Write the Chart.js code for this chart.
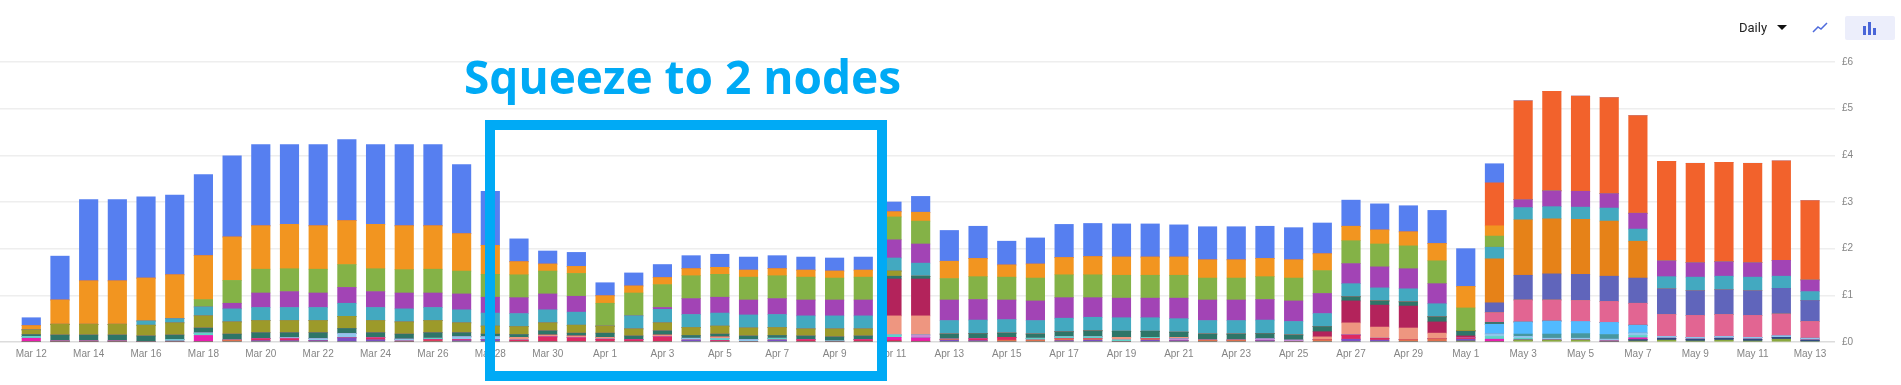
<!DOCTYPE html>
<html>
<head>
<meta charset="utf-8">
<title>Daily cost</title>
<script src="https://cdn.jsdelivr.net/npm/chart.js@4"></script>
<style>
  html, body { margin: 0; padding: 0; background: #fff; overflow: hidden; }
  #wrap { position: relative; width: 1901px; height: 385px; }
  canvas { position: absolute; left: 0; top: 0; }
  #headline { position: absolute; left: 464px; top: 44px; font: 700 46px/64px "Open Sans", sans-serif; color: #00aaf5; white-space: nowrap; }
  #box { position: absolute; left: 485px; top: 120px; width: 382px; height: 241px; border: 10px solid #00aaf5; }
  #daily { position: absolute; left: 1739px; top: 20px; font: 13px/16px Roboto, sans-serif; color: #222; }
  #caret { position: absolute; left: 1777px; top: 25px; width: 0; height: 0; border-left: 5px solid transparent; border-right: 5px solid transparent; border-top: 5px solid #111; }
  #lineIcon { position: absolute; left: 1812px; top: 22px; }
  #barBtn { position: absolute; left: 1845px; top: 16px; width: 50px; height: 24px; background: #eceefb; border-radius: 2px; }
  #barBtn svg { position: absolute; left: 18px; top: 6px; }
</style>
</head>
<body>
<div id="wrap">
  <canvas id="cost-chart" width="1901" height="385"></canvas>
  <div id="headline">Squeeze to 2 nodes</div>
  <div id="box"></div>
  <div id="daily">Daily</div>
  <div id="caret"></div>
  <svg id="lineIcon" width="16" height="12"><polyline points="1,10 6,5 9,7 15,1" fill="none" stroke="#4f6bdc" stroke-width="1.5"/></svg>
  <div id="barBtn"><svg width="14" height="13"><rect x="0" y="4" width="3" height="9" fill="#4a66d8"/><rect x="5" y="0" width="3" height="13" fill="#4a66d8"/><rect x="10" y="6" width="3" height="7" fill="#4a66d8"/></svg></div>
</div>
<script>
// Days along the bottom
const days = [
  'Mar 12','Mar 13','Mar 14','Mar 15','Mar 16','Mar 17','Mar 18','Mar 19','Mar 20','Mar 21',
  'Mar 22','Mar 23','Mar 24','Mar 25','Mar 26','Mar 27','Mar 28','Mar 29','Mar 30','Mar 31',
  'Apr 1','Apr 2','Apr 3','Apr 4','Apr 5','Apr 6','Apr 7','Apr 8','Apr 9','Apr 10',
  'Apr 11','Apr 12','Apr 13','Apr 14','Apr 15','Apr 16','Apr 17','Apr 18','Apr 19','Apr 20',
  'Apr 21','Apr 22','Apr 23','Apr 24','Apr 25','Apr 26','Apr 27','Apr 28','Apr 29','Apr 30',
  'May 1','May 2','May 3','May 4','May 5','May 6','May 7','May 8','May 9','May 10',
  'May 11','May 12','May 13'
];

// Series values in pounds, bottom of the stack first
const lime = [
  0,0,0,0,0,0,0,0,0,0, 0,0,0,0,0,0,0,0,0,0, 0,0,0,0,0,0,0,0,0,0,
  0,0,0,0,0,0,0,0,0,0, 0,0,0,0,0,0,0,0,0,0,
  .02,0,.04,.04,.04,0,.02,.04,.02,.04, .02,.06,0
];
const navy = [
  0,0,0,0,0,0,0,0,0,0, 0,0,0,0,0,0,0,0,0,0, 0,0,0,0,0,0,0,0,0,0,
  0,0,0,0,0,0,0,0,0,0, 0,0,0,0,0,0,0,0,0,0,
  0,0,0,0,0,0,.03,.04,.04,.04, .04,.04,.04
];
const violet = [
  0,0,0,0,0,0,0,0,.03,.03, .03,.09,.05,0,0,.03,.05,0,0,0, 0,0,0,.04,0,0,.04,0,0,0,
  0,0,.04,.03,0,0,.03,.04,0,.04, .03,0,0,.03,0,0,.06,.04,0,0,
  .04,0,0,0,0,.02,0,0,0,0, 0,0,0
];
const redOrange = [
  0,0,0,0,0,0,0,.04,0,0, 0,0,0,0,.02,0,0,0,0,0, 0,0,0,0,0,0,0,0,0,0,
  0,0,.02,0,.04,.04,.04,.03,0,.03, 0,.04,.04,0,0,.05,0,0,.05,.07,
  0,0,0,0,0,0,0,0,0,0, 0,0,0
];
const red = [
  0,.02,.02,.02,0,0,0,0,.04,.04, 0,0,.04,.02,.03,.02,0,.04,.11,.09, .06,.05,.11,0,.03,0,0,.05,0,.05,
  .04,.02,0,.04,.06,0,0,0,0,0, 0,0,0,0,0,0,.09,.04,0,0,
  .03,0,0,0,0,0,0,0,0,0, 0,0,0
];
const magenta = [
  .08,0,0,0,0,.02,.14,0,0,0, 0,0,0,0,0,0,0,0,0,0, 0,0,0,0,0,0,0,0,0,0,
  .06,.07,0,0,0,0,0,0,0,0, 0,0,0,0,0,0,0,0,0,0,
  0,.06,0,0,0,0,.04,0,0,0, 0,0,0
];
const lightTeal = [
  .04,0,0,0,0,.03,.05,0,0,0, 0,0,0,0,.03,0,0,0,0,0, 0,0,0,0,.04,0,.04,0,.02,0,
  .05,0,0,0,0,.04,.04,.04,.04,.03, 0,0,0,0,0,0,0,0,0,0,
  0,.06,.04,0,0,0,.05,0,0,0, 0,0,0
];
const lightBlue = [
  0,0,0,0,0,0,0,0,0,.02, .04,.09,0,.04,0,.06,.06,0,0,0, 0,0,0,.04,0,.05,0,0,0,0,
  0,0,0,0,0,0,0,0,0,0, 0,0,0,0,0,0,0,0,0,0,
  0,.05,.04,.04,.04,.04,.05,.04,.04,.04, .04,.03,.04
];
const lilac = [
  0,0,0,0,0,0,0,0,0,0, 0,0,0,0,0,0,0,0,0,0, 0,0,0,0,0,0,0,0,0,0,
  0,.06,0,0,0,0,0,0,0,0, .04,0,0,.04,.04,0,0,0,0,0,
  0,0,0,0,0,0,0,0,0,0, 0,0,0
];
const dimTeal = [
  0,0,0,0,0,0,0,0,0,0, 0,0,0,0,0,0,0,0,0,0, 0,0,0,0,0,0,0,0,0,0,
  0,0,0,0,0,0,0,0,0,0, 0,0,0,0,0,0,0,0,0,0,
  0,0,.05,.09,.10,.10,0,0,0,0, 0,0,0
];
const sky = [
  0,0,0,0,0,0,0,0,0,0, 0,0,0,0,0,0,0,0,0,0, 0,0,0,0,0,0,0,0,0,0,
  0,0,0,0,0,0,0,0,0,0, 0,0,0,0,0,0,0,0,0,0,
  0,.21,.26,.28,.26,.26,.17,0,0,0, 0,0,0
];
const salmon = [
  0,0,0,0,0,0,0,0,0,0, 0,0,0,0,0,0,0,.06,.04,.04, .04,0,.04,0,.04,0,0,0,0,0,
  .41,.41,0,0,0,0,0,0,.06,0, .03,0,0,0,0,.06,.26,.24,.25,.12,
  0,0,0,0,0,0,0,0,0,0, 0,0,0
];
const crimson = [
  0,0,0,0,0,0,0,0,0,0, 0,0,0,0,0,0,0,0,0,0, 0,0,0,0,0,0,0,0,0,0,
  .79,.79,0,0,0,0,0,0,0,0, 0,0,0,0,0,.11,.47,.47,.47,.24,
  .04,0,0,0,0,0,0,0,0,0, 0,0,0
];
const darkTeal = [
  .04,.13,.13,.13,.13,.10,.11,.13,.13,.11, .13,.11,.11,.11,.12,.09,.06,.06,.09,.06,
  .09,.08,.09,.06,.06,.08,.06,.08,.09,.08, .06,.06,.11,.11,.09,.09,.11,.13,.13,.13,
  .11,.13,.13,.11,.11,.11,.09,.09,.09,.11, .10,.04,0,0,0,0,0,0,0,0, 0,0,0
];
const pink = [
  0,0,0,0,0,0,0,0,0,0, 0,0,0,0,0,0,0,0,0,0, 0,0,0,0,0,0,0,0,0,0,
  0,0,0,0,0,0,0,0,0,0, 0,0,0,0,0,0,0,0,0,0,
  0,.21,.47,.45,.45,.45,.47,.47,.47,.47, .47,.47,.36
];
const olive = [
  .10,.23,.23,.23,.23,.26,.26,.26,.26,.26, .26,.26,.26,.26,.26,.21,.17,.17,.17,.17,
  .15,.15,.17,.17,.17,.17,.17,.15,.17,.15, .11,0,0,0,0,0,0,0,0,0,
  0,0,0,0,0,0,0,0,0,0, .02,0,0,0,0,0,0,0,0,0, 0,0,0
];
const indigo = [
  0,0,0,0,0,0,0,0,0,0, 0,0,0,0,0,0,0,0,0,0, 0,0,0,0,0,0,0,0,0,0,
  0,0,0,0,0,0,0,0,0,0, 0,0,0,0,0,0,0,0,0,0,
  0,.21,.53,.56,.56,.54,.54,.55,.53,.53, .53,.55,.45
];
const darkOrange = [
  0,0,0,0,0,0,0,0,0,0, 0,0,0,0,0,0,0,0,0,0, 0,0,0,0,0,0,0,0,0,0,
  0,0,0,0,0,0,0,0,0,0, 0,0,0,0,0,0,0,0,0,0,
  0,.94,1.19,1.18,1.18,1.18,.79,0,0,0, 0,0,0
];
const cyan = [
  0,0,0,0,.09,.09,.19,.28,.28,.28, .28,.28,.28,.28,.28,.28,.28,.28,.28,.28,
  0,.28,.29,.28,.28,.28,.28,.28,.28,.28, .28,.28,.29,.29,.29,.29,.29,.29,.29,.29,
  .29,.29,.29,.29,.29,.28,.28,.28,.28,.28, 0,.25,.26,.26,.26,.28,.26,.26,.29,.29, .29,.26,.19
];
const purple = [
  0,0,0,0,0,0,0,.12,.31,.34, .31,.34,.34,.34,.31,.34,.34,.34,.34,.34,
  0,0,.04,.34,.34,.32,.34,.34,.34,.34, .39,.41,.44,.44,.42,.42,.44,.42,.42,.42,
  .44,.44,.44,.44,.44,.43,.43,.45,.43,.43, 0,0,.17,.34,.34,.31,.34,.34,.31,.31, .31,.34,.25
];
const green = [
  0,0,0,0,0,0,.16,.49,.51,.49, .51,.49,.49,.50,.51,.49,.49,.49,.49,.49,
  .49,.49,.49,.49,.49,.49,.49,.49,.47,.49, .49,.49,.46,.49,.49,.49,.49,.49,.49,.49,
  .49,.47,.47,.49,.49,.49,.49,.49,.49,.49, .48,.24,0,0,0,0,0,0,0,0, 0,0,0
];
const orange = [
  .09,.52,.93,.93,.92,.94,.94,.93,.93,.95, .93,.94,.95,.94,.93,.80,.62,.28,.15,.15,
  .16,.15,.15,.15,.15,.15,.15,.15,.15,.15, .11,.19,.37,.39,.26,.30,.37,.39,.39,.39,
  .39,.39,.39,.39,.39,.36,.31,.30,.30,.37, .46,.22,0,0,0,0,0,0,0,0, 0,0,0
];
const orangeRed = [
  0,0,0,0,0,0,0,0,0,0, 0,0,0,0,0,0,0,0,0,0, 0,0,0,0,0,0,0,0,0,0,
  0,0,0,0,0,0,0,0,0,0, 0,0,0,0,0,0,0,0,0,0,
  0,.92,2.12,2.13,2.04,2.06,2.09,2.13,2.13,2.13, 2.13,2.13,1.70
];
const blue = [
  .17,.94,1.74,1.74,1.74,1.71,1.74,1.74,1.74,1.71, 1.74,1.74,1.71,1.74,1.74,1.48,1.16,.49,.28,.30,
  .28,.28,.28,.28,.28,.28,.28,.28,.28,.28, .21,.34,.66,.69,.51,.56,.71,.71,.71,.71,
  .69,.71,.71,.69,.69,.66,.56,.56,.56,.71, .81,.41,0,0,0,0,0,0,0,0, 0,0,0
];

const yTicks = [0, 1, 2, 3, 4, 5, 6];

const stackOrder = [
  [lime, '#8aa83f'], [navy, '#2f4a80'], [violet, '#7a4fc4'], [redOrange, '#e0704f'],
  [red, '#dd2a62'], [magenta, '#e91eb0'], [lightTeal, '#5fd3c8'], [lightBlue, '#8fc7ec'],
  [lilac, '#c78ad6'], [dimTeal, '#46979f'], [sky, '#52baff'], [salmon, '#ee9680'],
  [crimson, '#b3235b'], [darkTeal, '#2e7568'], [pink, '#e26592'], [olive, '#9c9a2a'],
  [indigo, '#6065bb'], [darkOrange, '#e68218'], [cyan, '#43a9c0'], [purple, '#a244b5'],
  [green, '#84b247'], [orange, '#f29520'], [orangeRed, '#f2622c'], [blue, '#567ff0']
];

const datasets = stackOrder.map(([values, colour]) => ({
  data: values.map((v, i) => ({ x: i, y: v })),
  backgroundColor: colour,
  barThickness: 18.5,
  borderWidth: 0
}));

new Chart(document.getElementById('cost-chart'), {
  type: 'bar',
  data: { datasets },
  options: {
    responsive: false,
    animation: false,
    layout: { padding: { top: 62 } },
    plugins: { legend: { display: false }, tooltip: { enabled: false } },
    scales: {
      x: {
        type: 'linear',
        stacked: true,
        offset: false,
        min: -1.09,
        max: 62.87,
        grid: { display: false, offset: false, drawTicks: false },
        border: { display: false },
        afterBuildTicks: axis => {
          axis.ticks = days.map((d, i) => ({ value: i })).filter(t => t.value % 2 === 0);
        },
        // the first and last labels must not push the plot area in
        afterFit: axis => {
          axis.height = 43;
          axis.paddingLeft = 0;
          axis.paddingRight = 0;
        },
        ticks: {
          autoSkip: false,
          maxRotation: 0,
          padding: 6,
          color: '#858585',
          font: { family: 'Liberation Sans', size: 10 },
          callback: value => days[value]
        }
      },
      y: {
        position: 'right',
        stacked: true,
        min: 0,
        max: yTicks[yTicks.length - 1],
        grid: {
          drawTicks: false,
          lineWidth: 1.5,
          color: ctx => ctx.tick.value === 0 ? '#dcdcdc' : '#eeeeee'
        },
        border: { display: false },
        afterFit: axis => { axis.width = 66; },
        ticks: {
          stepSize: 1,
          padding: 7,
          color: '#858585',
          font: { family: 'Liberation Sans', size: 10 },
          callback: value => '£' + value
        }
      }
    }
  }
});
</script>
</body>
</html>
